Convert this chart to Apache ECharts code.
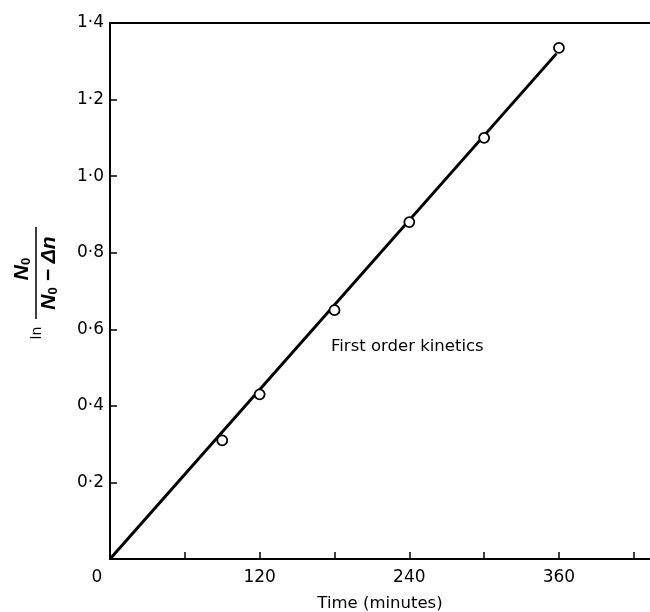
<!DOCTYPE html>
<html>
<head>
<meta charset="utf-8">
<script src="https://cdn.jsdelivr.net/npm/echarts@6/dist/echarts.min.js"></script>
<style>html,body{margin:0;padding:0;background:#fff;}#c{width:650px;height:612px;}</style>
</head>
<body>
<div id="c"></div>
<script>
// Data
const timeMin = [90, 120, 180, 240, 300, 360];
const lnRatio = [0.31, 0.43, 0.65, 0.88, 1.10, 1.335];
const fitX = [0, 358];
const fitY = [0, 1.32];
const xTickValues = [0, 60, 120, 180, 240, 300, 360, 420];
const xLabelValues = [0, 120, 240, 360];
const yTickValues = [0.2, 0.4, 0.6, 0.8, 1.0, 1.2, 1.4];
const yLabelTexts = ['0·2', '0·4', '0·6', '0·8', '1·0', '1·2', '1·4'];
const annotation = 'First order kinetics';
const xTitle = 'Time (minutes)';

const FONT = 'DejaVu Sans';
const MFONT = 'Liberation Sans';
const chart = echarts.init(document.getElementById('c'), null, {renderer: 'canvas'});

const points = timeMin.map((t, i) => [t, lnRatio[i]]);
const fit = fitX.map((t, i) => [t, fitY[i]]);

chart.setOption({
  animation: false,
  backgroundColor: '#fff',
  grid: {left: 110, right: 0, top: 23, bottom: 53, containLabel: false, outerBoundsMode: 'none'},
  xAxis: [{
    type: 'value', min: 0, max: 433,
    name: xTitle, nameLocation: 'middle', nameGap: 36,
    nameTextStyle: {fontFamily: FONT, fontSize: 16.5, color: '#000'},
    axisLine: {show: true, lineStyle: {color: '#000', width: 2}},
    axisTick: {show: true, inside: true, length: 7, customValues: xTickValues, lineStyle: {color: '#000', width: 1.5}},
    axisLabel: {
      customValues: xLabelValues, margin: 10, fontFamily: FONT, fontSize: 17, color: '#000',
      formatter: v => v === 0 ? '{z|0}' : String(v),
      rich: {z: {fontFamily: FONT, fontSize: 17, color: '#000', padding: [0, 26, 0, 0]}}
    },
    splitLine: {show: false}
  }, {
    type: 'value', position: 'top', min: 0, max: 433,
    axisLine: {show: true, onZero: false, lineStyle: {color: '#000', width: 2}},
    axisTick: {show: false}, axisLabel: {show: false}, splitLine: {show: false}
  }],
  yAxis: {
    type: 'value', min: 0, max: 1.4,
    axisLine: {show: true, lineStyle: {color: '#000', width: 2}},
    axisTick: {show: true, inside: true, length: 7, customValues: yTickValues, lineStyle: {color: '#000', width: 1.5}},
    axisLabel: {
      customValues: yTickValues, margin: 6, fontFamily: FONT, fontSize: 17, color: '#000',
      formatter: v => yLabelTexts[yTickValues.findIndex(t => Math.abs(t - v) < 1e-6)] || ''
    },
    splitLine: {show: false}
  },
  series: [{
    type: 'line', data: fit, showSymbol: false, symbol: 'none',
    lineStyle: {color: '#000', width: 3}, z: 2
  }, {
    type: 'scatter', data: points, symbol: 'circle', symbolSize: 10,
    itemStyle: {color: '#fff', borderColor: '#000', borderWidth: 1.8, opacity: 1}, z: 3
  }],
  graphic: [{
    type: 'text', left: 331, top: 338,
    style: {text: annotation, font: '16.5px "' + FONT + '"', fill: '#000'}
  }, {
    type: 'group', x: 36, y: 273, rotation: Math.PI / 2,
    children: [
      {type: 'line', shape: {x1: -46, y1: 0, x2: 46, y2: 0}, style: {stroke: '#000', lineWidth: 1.5}},
      {type: 'text', x: 4, y: -3, style: {
        text: '{n|N}{s|0}', align: 'center', verticalAlign: 'bottom',
        rich: {
          n: {fontFamily: MFONT, fontSize: 21, fontWeight: 'bold', fontStyle: 'italic', fill: '#000', color: '#000'},
          s: {fontFamily: MFONT, fontSize: 13, fontWeight: 'bold', fill: '#000', color: '#000', verticalAlign: 'bottom'}
        }}},
      {type: 'text', x: 0, y: 3, style: {
        text: '{n|N}{s|0}{n| − Δ}{i|n}', align: 'center', verticalAlign: 'top',
        rich: {
          n: {fontFamily: MFONT, fontSize: 21, fontWeight: 'bold', fontStyle: 'italic', fill: '#000', color: '#000'},
          i: {fontFamily: MFONT, fontSize: 21, fontWeight: 'bold', fontStyle: 'italic', fill: '#000', color: '#000'},
          s: {fontFamily: MFONT, fontSize: 13, fontWeight: 'bold', fill: '#000', color: '#000', verticalAlign: 'bottom'}
        }}},
      {type: 'text', x: -60, y: 1, style: {
        text: 'ln', align: 'center', verticalAlign: 'middle',
        font: '14px "' + FONT + '"', fill: '#000'}}
    ]
  }]
});
</script>
</body>
</html>
